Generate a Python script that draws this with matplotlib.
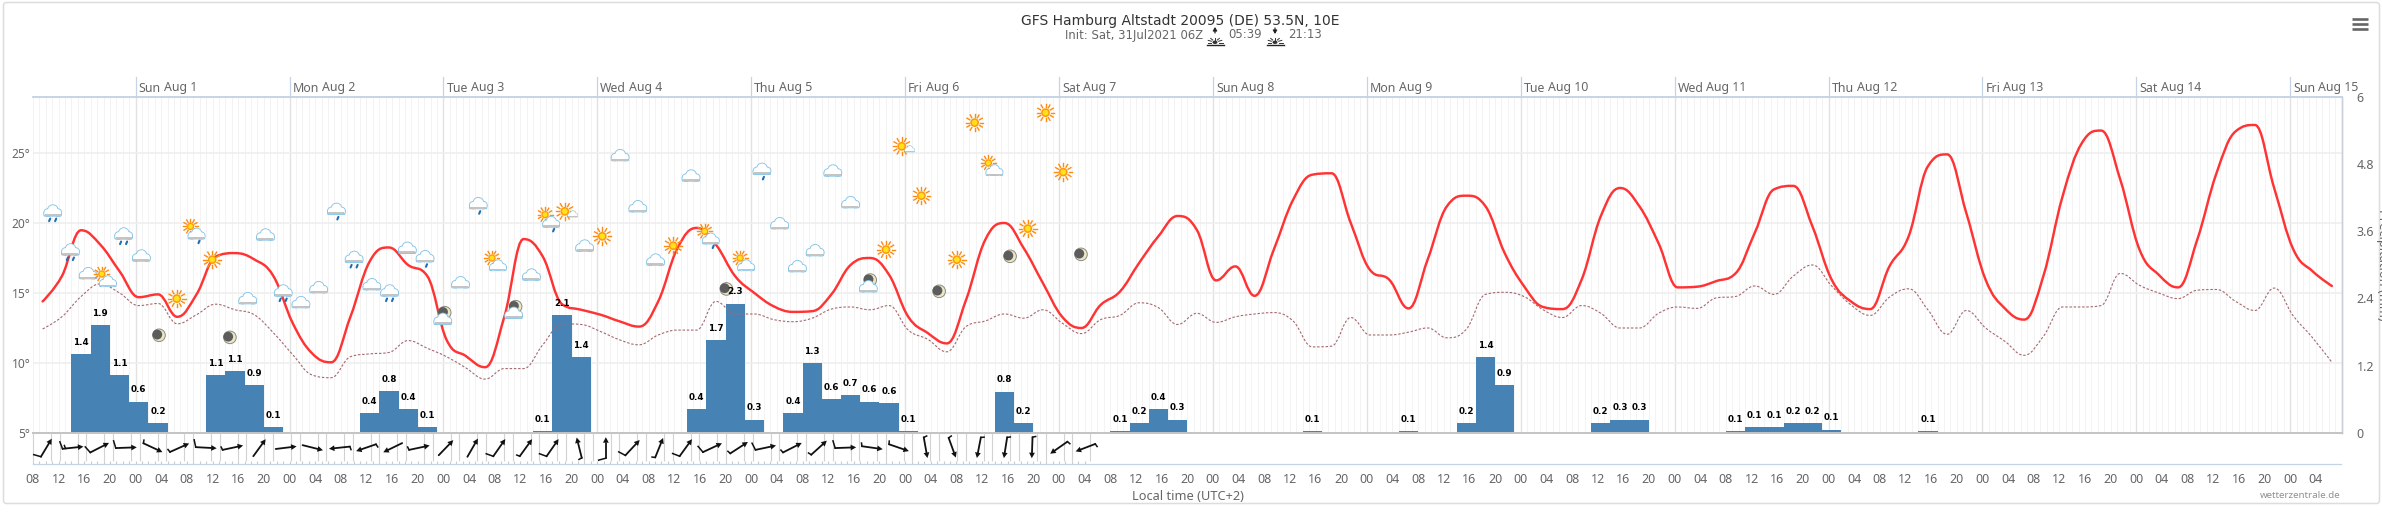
import numpy as np
import matplotlib
matplotlib.use('Agg')
import matplotlib.pyplot as plt
from matplotlib.path import Path
from matplotlib.patches import PathPatch, Circle, Ellipse, FancyBboxPatch, Rectangle, Polygon

# 3-hourly model values, one per category starting Sat 08:00 local
temp = [14.4, 16.2, 19.48, 18.45, 16.55, 14.7, 14.9, 13.3, 14.9, 17.6, 17.85, 17.4, 16.2, 12.85, 10.7, 10.05,
        13.3, 17.25, 18.25, 17.0, 16.2, 11.65, 10.5, 9.7, 13.3, 18.85, 17.6, 14.2, 13.8, 13.45, 12.97, 12.6,
        14.4, 18.2, 19.65, 18.45, 16.2, 15.0, 14.05, 13.65, 13.7, 14.9, 17.0, 17.5, 16.3, 13.3, 12.15, 11.4,
        14.5, 18.8, 20.0, 18.2, 15.7, 13.3, 12.5, 14.15, 15.1, 17.15, 19.05, 20.5, 19.5, 15.9, 16.9, 14.8,
        18.1, 21.65, 23.45, 23.55, 20.0, 16.65, 15.95, 13.9, 17.4, 21.2, 21.95, 21.2, 17.85, 15.5, 14.0, 13.85,
        15.95, 20.5, 22.5, 21.2, 18.55, 15.4, 15.45, 15.85, 16.4, 19.3, 22.4, 22.65, 19.75, 15.95, 14.4, 13.85,
        16.9, 19.05, 24.05, 24.9, 20.7, 15.95, 13.9, 13.1, 16.2, 21.9, 25.7, 26.6, 23.1, 18.1, 16.3, 15.4,
        18.8, 23.55, 26.55, 27.0, 22.5, 18.1, 16.55, 15.5]
dewpoint = [12.43, 13.3, 14.75, 15.65, 15.0, 14.1, 14.25, 12.8, 13.45, 14.2, 13.8, 13.45, 12.15, 10.6, 9.15, 8.95,
            10.45, 10.65, 10.75, 11.6, 11.05, 10.45, 9.65, 8.85, 9.6, 9.6, 11.3, 12.8, 12.75, 12.25, 11.65, 11.3,
            12.0, 12.35, 12.35, 14.4, 13.5, 13.5, 13.1, 12.95, 13.2, 13.85, 14.0, 13.8, 14.1, 12.35, 11.7, 10.8,
            12.6, 13.0, 13.5, 13.2, 13.8, 12.85, 12.1, 13.1, 13.4, 14.3, 13.95, 12.75, 13.55, 12.9, 13.3, 13.5,
            13.6, 13.0, 11.15, 11.2, 13.25, 12.0, 12.0, 12.2, 12.5, 11.8, 12.4, 14.9, 15.05, 14.75, 13.8, 13.25,
            14.1, 13.55, 12.5, 12.5, 13.55, 14.0, 13.9, 14.65, 14.75, 15.5, 14.9, 16.2, 17.0, 15.5, 14.15, 13.4,
            14.7, 15.3, 13.8, 12.05, 13.75, 12.5, 11.55, 10.55, 11.9, 14.0, 14.0, 14.1, 16.4, 15.55, 15.0, 14.6,
            15.2, 15.25, 14.4, 13.75, 15.35, 13.35, 11.8, 10.05]

rain_idx = [2, 3, 4, 5, 6, 9, 10, 11, 12, 17, 18, 19, 20, 26, 27, 28, 34, 35, 36, 37, 39, 40, 41, 42, 43, 44, 45,
            50, 51, 56, 57, 58, 59, 66, 71, 74, 75, 76, 81, 82, 83, 88, 89, 90, 91, 92, 93, 98]
rain_vals = [1.415, 1.93, 1.04, 0.56, 0.17, 1.04, 1.11, 0.86, 0.11, 0.36, 0.755, 0.42, 0.11, 0.04, 2.11, 1.36,
             0.434, 1.665, 2.31, 0.24, 0.36, 1.24, 0.61, 0.67, 0.56, 0.54, 0.04, 0.74, 0.18, 0.04, 0.18, 0.43, 0.24,
             0.04, 0.04, 0.18, 1.36, 0.86, 0.18, 0.24, 0.24, 0.04, 0.11, 0.11, 0.18, 0.17, 0.06, 0.04]
rain_labels = ['1.4', '1.9', '1.1', '0.6', '0.2', '1.1', '1.1', '0.9', '0.1', '0.4', '0.8', '0.4', '0.1', '0.1', '2.1', '1.4',
               '0.4', '1.7', '2.3', '0.3', '0.4', '1.3', '0.6', '0.7', '0.6', '0.6', '0.1', '0.8', '0.2', '0.1', '0.2', '0.4', '0.3',
               '0.1', '0.1', '0.2', '1.4', '0.9', '0.2', '0.3', '0.3', '0.1', '0.1', '0.1', '0.2', '0.2', '0.1', '0.1']

# weather symbols, evenly spaced, height on the temperature scale
icon_kinds = ['R', 'R', 'C', 'PC', 'R', 'C', 'M', 'S', 'PCR', 'S', 'M', 'C', 'C', 'R', 'C', 'C', 'L', 'R', 'C', 'R',
              'C', 'L', 'MC', 'C', 'L', 'PC', 'MC', 'C', 'PCR', 'SC', 'C', 'S', 'C', 'C', 'C', 'S', 'C', 'PCR', 'M', 'PC',
              'L', 'C', 'C', 'C', 'C', 'C', 'MC', 'S', 'SC', 'S', 'M', 'S', 'S', 'PC', 'M', 'S', 'S', 'S', 'M']
icon_temps = [20.76, 17.98, 16.36, 16.0, 19.12, 17.62, 11.98, 14.6, 19.4, 17.38, 11.83, 14.57, 19.12, 15.05, 14.29, 15.36,
              20.95, 17.45, 15.57, 15.05, 18.17, 17.57, 13.38, 15.71, 21.36, 17.14, 13.81, 16.26, 20.24, 20.83, 18.33, 19.05,
              24.79, 21.14, 17.33, 18.38, 23.33, 19.05, 15.29, 17.14, 23.81, 19.93, 16.86, 18.0, 23.69, 21.43, 15.71, 18.1,
              25.48, 21.95, 15.12, 17.38, 27.17, 23.93, 17.62, 19.6, 27.88, 23.64, 17.76]

# wind arrows: pointing direction in degrees, barb class 0 none / 1 short / 2 long / 3 long + short
wind_dir = [59, 6, 27, 2, -25, 24, -3, 12, 54, 7, -14, 186, 199, 206, 12, 46, 60, 55, 54, 55, 104, 90,
            47, 68, 54, 25, 33, 12, 27, 42, 2, -8, -19, -80, -70, 259, 261, 268, 215, 201]
wind_barb = [2, 3, 2, 2, 1, 1, 2, 1, 0, 0, 0, 1, 1, 0, 1, 0, 0, 2, 1, 2, 1, 2,
             2, 1, 2, 2, 1, 2, 1, 1, 2, 1, 1, 1, 1, 1, 1, 1, 1, 1]

day_names = ['Sun', 'Mon', 'Tue', 'Wed', 'Thu', 'Fri', 'Sat', 'Sun', 'Mon', 'Tue', 'Wed', 'Thu', 'Fri', 'Sat', 'Sun']
day_dates = ['Aug 1', 'Aug 2', 'Aug 3', 'Aug 4', 'Aug 5', 'Aug 6', 'Aug 7', 'Aug 8', 'Aug 9', 'Aug 10', 'Aug 11',
             'Aug 12', 'Aug 13', 'Aug 14', 'Aug 15']
temp_ticks = [5, 10, 15, 20, 25]
rain_ticks = [0, 1.2, 2.4, 3.6, 4.8, 6]

W, H = 2382, 526
LEFT, RIGHT, TOP, BOTTOM = 33.0, 2341.5, 96.7, 433.0
X_MAX = 360
T_MIN, T_MAX = 5, 29.02
UI = 'Noto Sans'
GREY = '#666666'
BLUE_LINE = '#c4d3e6'

fig = plt.figure(figsize=(W / 100, H / 100), dpi=100, facecolor='white')
rain_ax = fig.add_axes([LEFT / W, 1 - BOTTOM / H, (RIGHT - LEFT) / W, (BOTTOM - TOP) / H])
ax = rain_ax.twinx()
ax.yaxis.tick_left()
ov = fig.add_axes([0, 0, 1, 1], zorder=5)
ov.set_xlim(0, W)
ov.set_ylim(H, 0)
ov.axis('off')
ov.patch.set_alpha(0)

rain_ax.set_zorder(1)
ax.set_zorder(2)
ax.patch.set_visible(False)

hours = np.arange(120) * 3 + 1.5


def spline_path(x, y, smoothing=1.5):
    # same control points as a highcharts spline
    denom = smoothing + 1
    verts = [(x[0], y[0])]
    codes = [Path.MOVETO]
    right = (x[0], y[0])
    for i in range(1, len(x)):
        px, py = x[i], y[i]
        if i < len(x) - 1:
            lx = (smoothing * px + x[i - 1]) / denom
            ly = (smoothing * py + y[i - 1]) / denom
            rx = (smoothing * px + x[i + 1]) / denom
            ry = (smoothing * py + y[i + 1]) / denom
            corr = (ry - ly) * (rx - px) / (rx - lx) + py - ry
            ly += corr
            ry += corr
            if ly > y[i - 1] and ly > py:
                ly = max(y[i - 1], py)
                ry = 2 * py - ly
            elif ly < y[i - 1] and ly < py:
                ly = min(y[i - 1], py)
                ry = 2 * py - ly
            if ry > y[i + 1] and ry > py:
                ry = max(y[i + 1], py)
                ly = 2 * py - ry
            elif ry < y[i + 1] and ry < py:
                ry = min(y[i + 1], py)
                ly = 2 * py - ry
        else:
            lx, ly, rx, ry = px, py, px, py
        verts += [right, (lx, ly), (px, py)]
        codes += [Path.CURVE4] * 3
        right = (rx, ry)
    return Path(verts, codes)


# rain bars on the right axis
rain_ax.bar(hours[rain_idx], rain_vals, width=3, color='#4682b4', linewidth=0, zorder=3)
rain_ax.set_xlim(0, X_MAX)
rain_ax.set_ylim(0, 6)
rain_ax.set_yticks(rain_ticks)
rain_ax.set_yticklabels(['0', '1.2', '2.4', '3.6', '4.8', '6'])
rain_ax.yaxis.tick_right()
rain_ax.tick_params(axis='y', length=0, pad=11, labelsize=9, labelcolor=GREY, labelfontfamily=UI)
for label in rain_ax.get_yticklabels():
    label.set_horizontalalignment('left')

# x ticks sit below the wind strip
rain_ax.set_xticks(np.arange(0, X_MAX, 4))
rain_ax.set_xticklabels([f'{(8 + h) % 24:02d}' for h in np.arange(0, X_MAX, 4)])
rain_ax.tick_params(axis='x', length=0, pad=29, labelsize=9, labelcolor=GREY, labelfontfamily=UI)

# grid
rain_ax.vlines(np.arange(0, X_MAX + 1), 0, 6, color='#f3f3f3', linewidth=0.7, zorder=0)
rain_ax.vlines(np.arange(16, X_MAX, 24), 0, 6, color='#e2e2e2', linewidth=1.0, zorder=1)
for t in temp_ticks[1:]:
    rain_ax.axhline((t - T_MIN) / (T_MAX - T_MIN) * 6, color='#eeeeee', linewidth=1.1, zorder=1)

# temperature and dew point
ax.set_xlim(0, X_MAX)
ax.set_ylim(T_MIN, T_MAX)
ax.add_patch(PathPatch(spline_path(hours, temp), fill=False, edgecolor='#ff3333', linewidth=1.75, zorder=4,
                       capstyle='round'))
ax.add_patch(PathPatch(spline_path(hours, dewpoint), fill=False, edgecolor='#a5696d', linewidth=0.8, zorder=3,
                       linestyle=(0, (2.2, 1.6))))
ax.set_yticks(temp_ticks)
ax.set_yticklabels([f'{t}°' for t in temp_ticks])
ax.tick_params(axis='y', length=0, pad=2, labelsize=8.6, labelcolor=GREY, labelfontfamily=UI)

for a in (ax, rain_ax):
    a.spines['left'].set_visible(False)
    a.spines['top'].set_color(BLUE_LINE)
    a.spines['top'].set_linewidth(1.1)
    a.spines['right'].set_color('#c8d0dc')
    a.spines['right'].set_linewidth(1.0)
    a.spines['bottom'].set_color('#c4c4c4')
    a.spines['bottom'].set_linewidth(1.4)


def hx(h):
    return LEFT + h / X_MAX * (RIGHT - LEFT)


def ty(t):
    return BOTTOM - (t - T_MIN) / (T_MAX - T_MIN) * (BOTTOM - TOP)


# bar labels
for k, v, lab in zip(rain_idx, rain_vals, rain_labels):
    ov.annotate(lab, (hours[k], v), xycoords=rain_ax.transData, xytext=(0, 8.4), textcoords='offset points',
                ha='center', va='center', fontsize=6.3, fontweight='bold', color='black', zorder=12)


def cloud(cx, cy, s=1.0, z=6):
    parts = [(-5.0, 1.2, 3.3), (0.2, -1.2, 4.9), (5.3, 1.2, 3.3)]
    for pad, col in ((0.9, '#86c4e6'), (0.0, 'white')):
        for dx, dy, r in parts:
            ov.add_patch(Ellipse((cx + dx * s, cy + dy * s), 2 * (r + pad) * s, 2 * (r + pad) * s, color=col, lw=0, zorder=z))
        ov.add_patch(FancyBboxPatch((cx - 8.3 * s, cy + 1.0 * s), 16.6 * s, 3.4 * s, boxstyle=f'round,pad={pad * s},rounding_size={1.5 * s}',
                                    color=col, lw=0, zorder=z))
    ov.add_patch(Rectangle((cx - 8.0 * s, cy + 2.8 * s), 16 * s, 1.8 * s, color='#c4c4c4', lw=0, zorder=z))


def drops(cx, cy, n):
    for dx in {1: [1.5], 2: [-3, 3], 3: [-6, 0, 6]}[n]:
        ov.plot([cx + dx + 0.6, cx + dx - 0.5], [cy + 6.2, cy + 8.8], color='#1c6fb4', lw=1.5, solid_capstyle='round', zorder=6)


def sun(cx, cy, s=1.0, z=6):
    for a in np.arange(0, 360, 30):
        r = np.radians(a)
        ov.plot([cx + 5.6 * s * np.cos(r), cx + 8.8 * s * np.cos(r)], [cy + 5.6 * s * np.sin(r), cy + 8.8 * s * np.sin(r)],
                color='#ff8a10', lw=1.0, zorder=z)
    ov.add_patch(Circle((cx, cy), 4.4 * s, color='#ff9a10', lw=0, zorder=z))
    ov.add_patch(Circle((cx, cy), 2.8 * s, color='#ffe21a', lw=0, zorder=z))


def moon(cx, cy):
    ov.add_patch(Circle((cx, cy), 6.3, facecolor='#ece7c6', edgecolor='#8a8a80', lw=0.7, zorder=6))
    ov.add_patch(Circle((cx - 1.7, cy - 0.7), 4.9, color='#5c5c5c', lw=0, zorder=6))


def draw_icon(kind, cx, cy):
    if kind == 'C':
        cloud(cx, cy)
    elif kind == 'R':
        cloud(cx, cy - 1)
        drops(cx, cy, 2)
    elif kind == 'L':
        cloud(cx, cy)
        drops(cx, cy + 1, 1)
    elif kind == 'S':
        sun(cx, cy)
    elif kind == 'M':
        moon(cx, cy)
    elif kind in ('PC', 'PCR'):
        sun(cx - 4, cy - 5, 0.85)
        cloud(cx + 2, cy + 3, 0.95, z=7)
        if kind == 'PCR':
            drops(cx + 3, cy + 3, 1)
    elif kind == 'SC':
        sun(cx - 2, cy, 1.0)
        cloud(cx + 6, cy + 3, 0.55, z=7)
    elif kind == 'MC':
        moon(cx + 2, cy - 3)
        cloud(cx, cy + 4, z=7)


icon_x = 3.06 + np.arange(len(icon_kinds)) * 2.765
for kind, h, t in zip(icon_kinds, icon_x, icon_temps):
    draw_icon(kind, hx(h), ty(t))

# wind strip below the plot
STRIP_Y0, STRIP_Y1 = BOTTOM, 464.0
cell = 26.65
for i in range(len(wind_dir)):
    ov.vlines([LEFT + cell * i, LEFT + 18 + cell * i], STRIP_Y0, STRIP_Y1 - 3, color='#d2d2d2', lw=0.8, zorder=2)
ov.vlines(hx(np.arange(0, 165)), STRIP_Y1 - 3.5, STRIP_Y1, color='#cccccc', lw=0.8, zorder=2)
ov.plot([LEFT, RIGHT - 1], [STRIP_Y1, STRIP_Y1], color=BLUE_LINE, lw=0.9, zorder=2)

wind_x = 2.08 + np.arange(len(wind_dir)) * 4.155
for h, deg, barb in zip(wind_x, wind_dir, wind_barb):
    cx, cy = hx(h), 447.7
    a = np.radians(deg)
    ux, uy = np.cos(a), -np.sin(a)
    nx, ny = np.cos(a + np.radians(105)), -np.sin(a + np.radians(105))
    tail = (cx - 10.5 * ux, cy - 10.5 * uy)
    head = (cx + 10.5 * ux, cy + 10.5 * uy)
    base = (head[0] - 5.5 * ux, head[1] - 5.5 * uy)
    ov.plot([tail[0], base[0]], [tail[1], base[1]], color='#111111', lw=1.3, zorder=4, solid_capstyle='round')
    ov.add_patch(Polygon([head, (base[0] - 2.9 * uy, base[1] + 2.9 * ux), (base[0] + 2.9 * uy, base[1] - 2.9 * ux)],
                         color='#111111', lw=0, zorder=4))
    if barb >= 2:
        ov.plot([tail[0], tail[0] + 7.5 * nx], [tail[1], tail[1] + 7.5 * ny], color='#111111', lw=1.1, zorder=4)
    elif barb == 1:
        ov.plot([tail[0], tail[0] + 3.2 * nx], [tail[1], tail[1] + 3.2 * ny], color='#111111', lw=1.1, zorder=4)
    if barb == 3:
        sx, sy = tail[0] + 3 * ux, tail[1] + 3 * uy
        ov.plot([sx, sx + 3.2 * nx], [sy, sy + 3.2 * ny], color='#111111', lw=1.1, zorder=4)

# day header
fig.canvas.draw()
renderer = fig.canvas.get_renderer()
for i, (name, date) in enumerate(zip(day_names, day_dates)):
    xd = hx(16 + 24 * i)
    ov.plot([xd, xd], [77, TOP], color=BLUE_LINE, lw=0.9, zorder=2)
    t1 = ov.text(xd + 3, 88, name, fontsize=8.9, fontweight='bold', color=GREY, va='center', family=UI)
    w = t1.get_window_extent(renderer).width
    ov.text(xd + 3 + w + 3, 88, date, fontsize=8.9, color=GREY, va='center', family=UI)

# title
ov.text(1180, 20.5, 'GFS Hamburg Altstadt 20095 (DE) 53.5N, 10E', fontsize=10, color='#333333', ha='center', va='center')
ov.text(1065, 35, 'Init: Sat, 31Jul2021 06Z', fontsize=8.4, color=GREY, ha='left', va='center')
ov.text(1228, 35, '05:39', fontsize=8.4, color=GREY, ha='left', va='center')
ov.text(1288, 35, '21:13', fontsize=8.4, color=GREY, ha='left', va='center')


def sunrise(cx, up):
    ov.plot([cx - 8.5, cx + 8.5], [44.7, 44.7], color='#222222', lw=1.0, zorder=6)
    ov.add_patch(Ellipse((cx, 42.3), 5, 3.4, color='#333333', lw=0, zorder=6))
    for a in (-155, -125, -90, -55, -25, 0, 180):
        r = np.radians(a)
        ov.plot([cx + 4 * np.cos(r), cx + 7.5 * np.cos(r)], [42.5 + 3 * np.sin(r), 42.5 + 5 * np.sin(r)], color='#333333', lw=0.7, zorder=6)
    tip, root = (27, 33) if up else (34, 28)
    ov.annotate('', xy=(cx, tip), xytext=(cx, root), arrowprops=dict(arrowstyle='-|>,head_width=0.12,head_length=0.2', lw=0.9, color='#222222', shrinkA=0, shrinkB=0))


sunrise(1215, True)
sunrise(1275, False)

# footer and right axis title, the reference has this one running off the image edge too
ov.text(1188, 497, 'Local time (UTC+2)', fontsize=9.2, color=GREY, ha='center', va='center', family=UI)
ov.text(2341, 495, 'wetterzentrale.de', fontsize=7, color='#909090', ha='right', va='center', family=UI)
ov.text(2383, 265, 'Precipitation (mm)', fontsize=9.2, color=GREY, ha='center', va='center', rotation=270, family=UI,
        clip_on=False)

# menu button
for y in (19, 24, 29):
    ov.plot([2352, 2368], [y, y], color='#666666', lw=1.9, zorder=6, solid_capstyle='butt')

# card outline
ov.add_patch(FancyBboxPatch((5, 4), W - 9, 498, boxstyle='round,pad=1.5,rounding_size=3', fill=False, edgecolor='#dddddd', lw=1.1, zorder=1))

fig.savefig('out.png', dpi=100, facecolor='white')
